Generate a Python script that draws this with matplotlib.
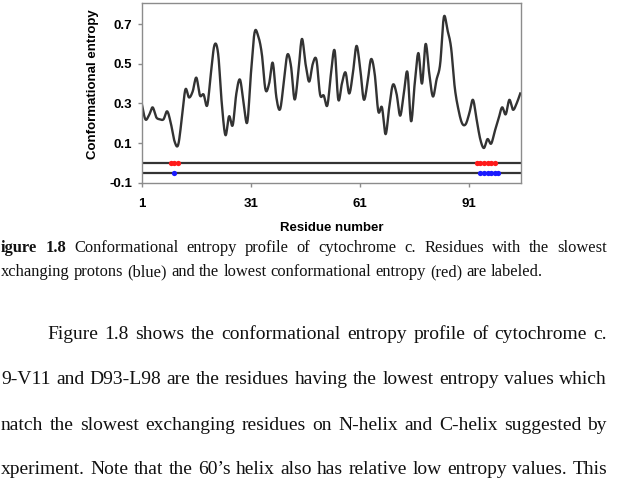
import numpy as np
import matplotlib
matplotlib.use("Agg")
import matplotlib.pyplot as plt

# ---------------- data ----------------
residues = list(range(1, 106))
entropy = [0.30, 0.22, 0.24, 0.28, 0.23, 0.22, 0.22, 0.26, 0.20, 0.11,
           0.09, 0.22, 0.37, 0.33, 0.36, 0.43, 0.34, 0.345, 0.29, 0.45,
           0.595, 0.55, 0.30, 0.14, 0.235, 0.19, 0.35, 0.42, 0.30, 0.205,
           0.45, 0.657, 0.64, 0.55, 0.37, 0.40, 0.505, 0.33, 0.27, 0.40,
           0.545, 0.49, 0.32, 0.45, 0.625, 0.50, 0.41, 0.50, 0.52, 0.345,
           0.34, 0.29, 0.45, 0.567, 0.32, 0.40, 0.456, 0.35, 0.45, 0.59,
           0.48, 0.32, 0.40, 0.523, 0.45, 0.26, 0.28, 0.145, 0.28, 0.394,
           0.35, 0.238, 0.35, 0.458, 0.21, 0.40, 0.554, 0.40, 0.60, 0.45,
           0.335, 0.42, 0.50, 0.735, 0.67, 0.58, 0.38, 0.27, 0.20, 0.195,
           0.25, 0.318, 0.22, 0.12, 0.075, 0.12, 0.097, 0.16, 0.22, 0.28,
           0.245, 0.318, 0.268, 0.30, 0.35]
red_residues = [9, 10, 11, 93, 94, 95, 96, 97, 98]     # lowest entropy
blue_residues = [10, 94, 95, 96, 97, 98, 99]           # slowest exchanging
red_level = 0.0
blue_level = -0.05
x_ticks = [1, 31, 61, 91]
y_ticks = [-0.1, 0.1, 0.3, 0.5, 0.7]
y_tick_labels = ["-0.1", "0.1", "0.3", "0.5", "0.7"]

# page text as visible in the (left-cropped) page
caption_1 = "igure 1.8 Conformational entropy profile of cytochrome c. Residues with the slowest"
caption_2 = "xchanging protons (blue) and the lowest conformational entropy (red) are labeled."
body = ["Figure 1.8 shows the conformational entropy profile of cytochrome c.",
        "9-V11 and D93-L98 are the residues having the lowest entropy values which",
        "natch the slowest exchanging residues on N-helix and C-helix suggested by",
        "xperiment. Note that the 60\u2019s helix also has relative low entropy values. This"]


def catmull_rom(x, y, n=12):
    x = np.asarray(x, float); y = np.asarray(y, float)
    px = np.concatenate([[2 * x[0] - x[1]], x, [2 * x[-1] - x[-2]]])
    py = np.concatenate([[2 * y[0] - y[1]], y, [2 * y[-1] - y[-2]]])
    xs, ys = [], []
    t = np.linspace(0, 1, n, endpoint=False)
    for i in range(1, len(px) - 2):
        for arr, out in ((px, xs), (py, ys)):
            p0, p1, p2, p3 = arr[i - 1], arr[i], arr[i + 1], arr[i + 2]
            out.append(0.5 * ((2 * p1) + (-p0 + p2) * t +
                              (2 * p0 - 5 * p1 + 4 * p2 - p3) * t ** 2 +
                              (-p0 + 3 * p1 - 3 * p2 + p3) * t ** 3))
    xs.append([x[-1]]); ys.append([y[-1]])
    return np.concatenate(xs), np.concatenate(ys)


W, H = 618, 488
fig = plt.figure(figsize=(W / 100, H / 100), dpi=100)
fig.patch.set_facecolor("white")

ax = fig.add_axes([141.7 / W, 1 - 182.7 / H, (521 - 141.7) / W, (182.7 - 3.3) / H])
sx, sy = catmull_rom(residues, entropy)
ax.plot(sx, sy, color="#333333", lw=1.7, solid_joinstyle="round")
ax.axhline(red_level, color="#333333", lw=1.6)
ax.axhline(blue_level, color="#333333", lw=1.6)
ax.plot(red_residues, [red_level] * len(red_residues), "o", color="#ff1a1a", ms=3.8, mec="none")
ax.plot(blue_residues, [blue_level] * len(blue_residues), "o", color="#1a1aff", ms=3.8, mec="none")

ax.set_xlim(1, 105.2)
ax.set_ylim(-0.1, 0.805)
ax.set_xticks(x_ticks)
ax.set_xticklabels([str(v) for v in x_ticks])
ax.set_yticks(y_ticks)
ax.set_yticklabels(y_tick_labels)
for s in ax.spines.values():
    s.set_color("#8c8c8c"); s.set_linewidth(1.0)
ax.tick_params(axis="both", direction="out", length=3, width=1, color="#8c8c8c",
               labelsize=9.5)
ax.tick_params(axis="x", pad=8)
ax.tick_params(axis="y", pad=4)
for lab in ax.get_xticklabels() + ax.get_yticklabels():
    lab.set_fontweight("bold"); lab.set_family("Liberation Sans")
ax.set_xlabel("Residue number", fontsize=9.5, fontweight="bold", family="Liberation Sans", labelpad=9)
ax.set_ylabel("Conformational entropy", fontsize=9.5, fontweight="bold", family="Liberation Sans")
ax.yaxis.set_label_coords(-0.112, 0.55)

renderer = fig.canvas.get_renderer()
SERIF = "Liberation Serif"


def natural_width(text, size):
    t = fig.text(0, 0, text, fontsize=size, family=SERIF)
    w = t.get_window_extent(renderer).width
    t.remove()
    return w


def place_line(text, y_px, x0, x1, size, justify=True, bold_words=0):
    words = text.split(" ")
    objs = []
    for i, w in enumerate(words):
        objs.append(fig.text(0, 1 - y_px / H, w, fontsize=size, family=SERIF,
                             fontweight="bold" if i < bold_words else "normal",
                             va="baseline", ha="left", color="#111111"))
    widths = [o.get_window_extent(renderer).width for o in objs]
    space = natural_width("a a", size) - natural_width("aa", size)
    if justify and len(words) > 1:
        gap = (x1 - x0 - sum(widths)) / (len(words) - 1)
    else:
        gap = space
    x = x0
    for o, w in zip(objs, widths):
        o.set_x(x / W)
        x += w + gap


# font sizes fitted to the measured line lengths of the page
cap_size = 10 * 540 / natural_width(caption_2, 10)
body_size = 10 * 598 / natural_width(body[1], 10)

place_line(caption_1, 252, 1, 607, cap_size, True, bold_words=2)
place_line(caption_2, 276, 1, 607, cap_size, False)
place_line(body[0], 339, 47, 607, body_size, True)
place_line(body[1], 384, 1, 607, body_size, True)
place_line(body[2], 430, 1, 607, body_size, True)
place_line(body[3], 474, 1, 607, body_size, True)

fig.savefig("out.png", dpi=100)
